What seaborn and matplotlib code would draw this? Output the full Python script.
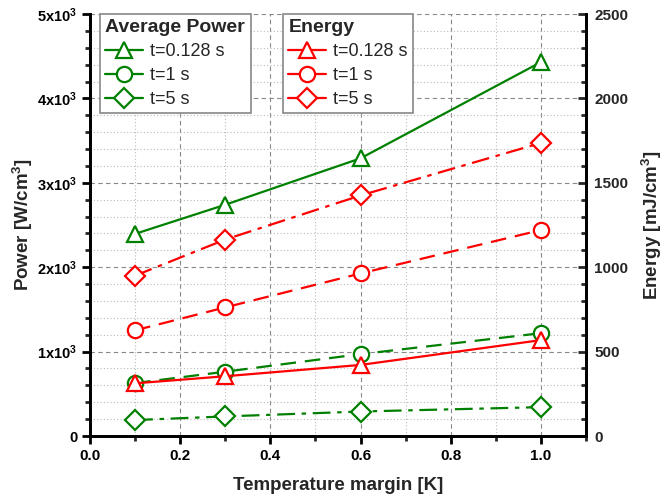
import matplotlib
matplotlib.use("Agg")
import matplotlib.pyplot as plt
import seaborn as sns
import pandas as pd
from matplotlib.lines import Line2D
from matplotlib.ticker import MultipleLocator

margin = [0.1, 0.3, 0.6, 1.0]
power_t0128 = [2395, 2740, 3290, 4430]
power_t1 = [627, 762, 970, 1218]
power_t5 = [189, 232, 290, 342]
energy_t0128 = [312, 354, 421, 568]
energy_t1 = [626, 762, 963, 1220]
energy_t5 = [950, 1164, 1425, 1736]
series_labels = ["t=0.128 s", "t=1 s", "t=5 s"]
power_ticks = [0, 1000, 2000, 3000, 4000, 5000]
power_ticklabels = ["0", "1x10$^3$", "2x10$^3$", "3x10$^3$", "4x10$^3$", "5x10$^3$"]

sns.set_theme(style="white")
plt.rcParams["font.family"] = ["Liberation Sans", "DejaVu Sans"]
plt.rcParams["mathtext.fontset"] = "custom"
plt.rcParams["mathtext.rm"] = "Liberation Sans:bold"
plt.rcParams["mathtext.it"] = "Liberation Sans:bold"
plt.rcParams["mathtext.bf"] = "Liberation Sans:bold"

GREEN = "#008000"
RED = "#FF0000"
markers = ["^", "o", "D"]
msizes = [12, 11, 10]
styles = ["-", (0, (7, 4)), (0, (8, 3, 2, 3))]

fig = plt.figure(figsize=(6.70, 4.99), dpi=100)
ax = fig.add_axes([90/670, 1-436/499, (586-90)/670, (436-14)/499])
ax2 = ax.twinx()

for vals, m, ms, ls in zip([power_t0128, power_t1, power_t5], markers, msizes, styles):
    sns.lineplot(x=margin, y=vals, ax=ax, color=GREEN, marker=m, markersize=ms,
                 markerfacecolor="white", markeredgecolor=GREEN, markeredgewidth=1.6,
                 linestyle=ls, linewidth=1.6, zorder=3)
for vals, m, ms, ls in zip([energy_t0128, energy_t1, energy_t5], markers, msizes, styles):
    sns.lineplot(x=margin, y=vals, ax=ax2, color=RED, marker=m, markersize=ms,
                 markerfacecolor="white", markeredgecolor=RED, markeredgewidth=1.6,
                 linestyle=ls, linewidth=1.6, zorder=3)

ax.set_xlim(0, 1.1)
ax.set_ylim(0, 5000)
ax2.set_ylim(0, 2500)

ax.xaxis.set_minor_locator(MultipleLocator(0.1))
ax.set_xticks([0, 0.2, 0.4, 0.6, 0.8, 1.0])
ax.set_xticklabels(["0.0", "0.2", "0.4", "0.6", "0.8", "1.0"])
ax.set_yticks(power_ticks)
ax.set_yticklabels(power_ticklabels)
ax.yaxis.set_minor_locator(MultipleLocator(200))
ax2.yaxis.set_major_locator(MultipleLocator(500))
ax2.yaxis.set_minor_locator(MultipleLocator(100))

ax.grid(which="major", color="#888888", linestyle=(0, (4, 3)), linewidth=0.8)
ax.grid(which="minor", color="#BBBBBB", linestyle=(0, (1, 2)), linewidth=0.8)
ax.set_axisbelow(True)

for a in (ax, ax2):
    for s in a.spines.values():
        s.set_linewidth(2)
        s.set_color("black")
    a.spines["top"].set_visible(False)

ax.tick_params(axis="x", which="major", direction="out", length=6, width=2,
               labelsize=11, colors="black", bottom=True)
ax.tick_params(axis="y", which="major", direction="out", length=6, width=2,
               labelsize=10.5, colors="black", left=True, pad=3)
ax.tick_params(axis="both", which="minor", direction="out", length=3.5, width=2,
               left=True, bottom=True)
ax2.tick_params(axis="y", which="major", direction="in", length=6, width=2,
                labelsize=11, right=True, pad=6)
ax2.tick_params(axis="y", which="minor", direction="in", length=3.5, width=2, right=True)

for lab in ax.get_xticklabels() + ax.get_yticklabels() + ax2.get_yticklabels():
    lab.set_fontweight("bold")

ax.set_xlabel("Temperature margin [K]", fontsize=13.5, fontweight="bold", labelpad=10)
ax.set_ylabel("Power [W/cm$^3$]", fontsize=13.5, fontweight="bold", labelpad=2)
ax2.set_ylabel("Energy [mJ/cm$^3$]", fontsize=13.5, fontweight="bold", labelpad=8)

def handles(color):
    return [Line2D([], [], color=color, marker=m, markersize=ms, markerfacecolor="white",
                   markeredgewidth=1.6, linewidth=1.6, linestyle="-")
            for m, ms in zip(markers, msizes)]

common = dict(loc="upper left", borderaxespad=0, fancybox=False, framealpha=1,
              edgecolor="#888888", fontsize=13, handlelength=2.1, handletextpad=0.4,
              labelspacing=0.38, borderpad=0.3, alignment="left",
              title_fontproperties={"weight": "bold", "size": 14})
leg1 = ax2.legend(handles(GREEN), series_labels, title="Average Power",
                  bbox_to_anchor=(0.02, 1.0), **common)
leg1.get_frame().set_linewidth(1.2)
ax2.add_artist(leg1)
leg2 = ax2.legend(handles(RED), series_labels, title="Energy",
                  bbox_to_anchor=(0.389, 1.0), **common)
leg2.get_frame().set_linewidth(1.2)

fig.savefig("out.png", dpi=100)
